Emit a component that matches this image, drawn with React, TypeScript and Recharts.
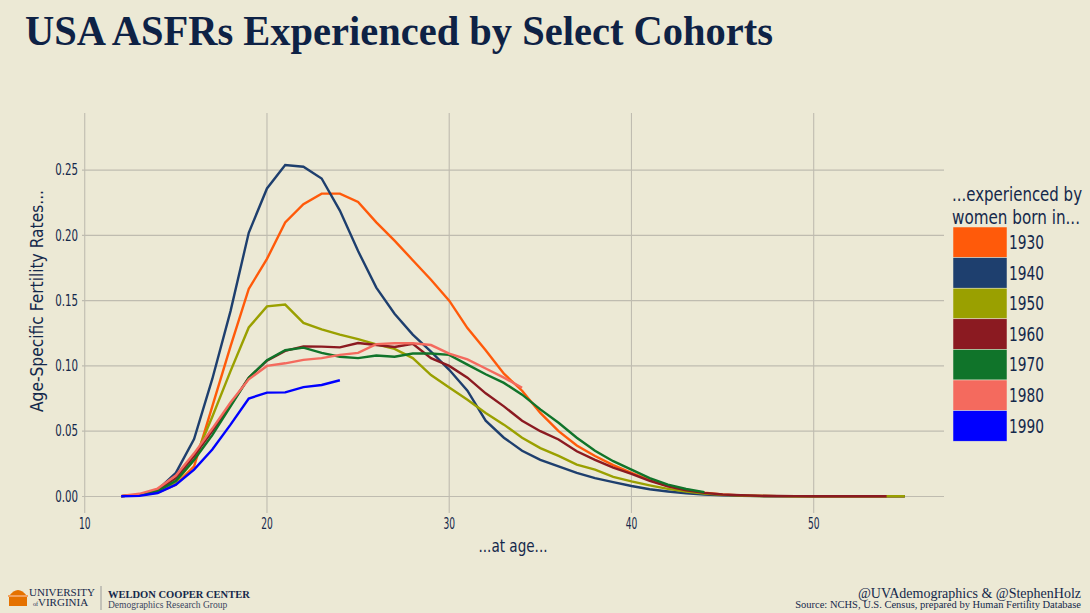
import React from 'react';
import { LineChart, Line, XAxis, YAxis, CartesianGrid } from 'recharts';

const ages = [12, 13, 14, 15, 16, 17, 18, 19, 20, 21, 22, 23, 24, 25, 26, 27, 28, 29, 30, 31, 32, 33, 34, 35, 36, 37, 38, 39, 40, 41, 42, 43, 44, 45, 46, 47, 48, 49, 50, 51, 52, 53, 54, 55];

const cohorts = ['1930', '1940', '1950', '1960', '1970', '1980', '1990'];
const cohortColors = ['#FF5A0A', '#1E3F6E', '#9AA000', '#8B1A21', '#10742A', '#F46A5E', '#0000FF'];

const asfr1930 = [0.0002, 0.001, 0.003, 0.009, 0.023, 0.069, 0.115, 0.159, 0.182, 0.21, 0.224, 0.232, 0.232, 0.2256, 0.21, 0.196, 0.181, 0.166, 0.15, 0.129, 0.112, 0.094, 0.081, 0.064, 0.05, 0.039, 0.031, 0.024, 0.018, 0.0125, 0.008, 0.0048, 0.0028, 0.0015, 0.0008, 0.0004, 0.0002, 0.0001, 0.0001, 0.0001, 0.0001, 0.0001, 0.0001, 0.0001];
const asfr1940 = [0.0002, 0.001, 0.005, 0.018, 0.044, 0.09, 0.142, 0.202, 0.236, 0.254, 0.2526, 0.2436, 0.219, 0.188, 0.16, 0.14, 0.124, 0.111, 0.097, 0.081, 0.058, 0.045, 0.035, 0.028, 0.023, 0.018, 0.014, 0.011, 0.008, 0.0055, 0.0038, 0.0024, 0.0014, 0.0008, 0.0004, 0.0002, 0.0001, 0.0001, 0.0001, 0.0001, 0.0001, 0.0001, 0.0001, 0.0001];
const asfr1950 = [0.0002, 0.001, 0.004, 0.011, 0.028, 0.061, 0.096, 0.1295, 0.1456, 0.147, 0.133, 0.128, 0.124, 0.1205, 0.1165, 0.113, 0.106, 0.093, 0.0835, 0.074, 0.064, 0.055, 0.045, 0.037, 0.031, 0.0244, 0.0205, 0.015, 0.0115, 0.0085, 0.0058, 0.0038, 0.0022, 0.0012, 0.0006, 0.0003, 0.0002, 0.0001, 0.0001, 0.0001, 0.0001, 0.0001, 0.0001, 0.0001];
const asfr1960 = [0.0002, 0.001, 0.005, 0.014, 0.031, 0.05, 0.07, 0.091, 0.104, 0.1115, 0.115, 0.1148, 0.1142, 0.1175, 0.116, 0.1145, 0.117, 0.106, 0.1, 0.091, 0.079, 0.069, 0.058, 0.05, 0.0436, 0.0346, 0.028, 0.022, 0.0172, 0.012, 0.0077, 0.0046, 0.0027, 0.0015, 0.0009, 0.0005, 0.0003, 0.0002, 0.0001, 0.0001, 0.0001, 0.0001, 0.0001];
const asfr1970 = [0.0002, 0.001, 0.004, 0.012, 0.028, 0.047, 0.069, 0.091, 0.1044, 0.112, 0.114, 0.11, 0.107, 0.106, 0.108, 0.107, 0.1095, 0.1095, 0.1085, 0.101, 0.0936, 0.087, 0.078, 0.0667, 0.0564, 0.045, 0.035, 0.027, 0.0205, 0.014, 0.009, 0.0057, 0.0033];
const asfr1980 = [0.0003, 0.002, 0.006, 0.016, 0.033, 0.052, 0.072, 0.0897, 0.1, 0.102, 0.1046, 0.106, 0.1085, 0.11, 0.1167, 0.1174, 0.1174, 0.116, 0.1095, 0.105, 0.098, 0.091, 0.0833];
const asfr1990 = [0.0001, 0.0004, 0.0026, 0.009, 0.0205, 0.036, 0.055, 0.075, 0.0795, 0.0797, 0.0838, 0.0854, 0.089];

const xTicks = [10, 20, 30, 40, 50];
const yTicks = [0, 0.05, 0.1, 0.15, 0.2, 0.25];

const seriesValues = [asfr1930, asfr1940, asfr1950, asfr1960, asfr1970, asfr1980, asfr1990];

const data = ages.map((age, i) => {
  const row: Record<string, number | undefined> = { age };
  cohorts.forEach((c, k) => {
    row['c' + c] = seriesValues[k][i];
  });
  return row;
});

const BG = '#ECE9D5';
const NAVY = '#14284B';
const GRID = '#BFBCB0';
const SANS = '"DejaVu Sans", "Noto Sans", sans-serif';
const SERIF = '"Liberation Serif", "DejaVu Serif", serif';

// approximate narrow widths for condensed look
const narrowWidth = (s: string, digit: number, dot: number) => {
  let w = 0;
  for (const ch of s) w += ch === '.' ? dot : digit;
  return w;
};

const XTick = (props: any) => {
  const { x, y, payload } = props;
  const s = String(payload.value);
  return (
    <text x={x} y={y} dy="0.71em" textAnchor="middle" fontFamily={SANS} fontSize={15} fill={NAVY}
      textLength={narrowWidth(s, 5.8, 3)} lengthAdjust="spacingAndGlyphs">
      {s}
    </text>
  );
};

const YTick = (props: any) => {
  const { x, y, payload } = props;
  const s = Number(payload.value).toFixed(2);
  return (
    <text x={x} y={y} dy="0.355em" textAnchor="end" fontFamily={SANS} fontSize={15} fill={NAVY}
      textLength={narrowWidth(s, 6.4, 3.6)} lengthAdjust="spacingAndGlyphs">
      {s}
    </text>
  );
};

const legendTitle1 = '...experienced by';
const legendTitle2 = 'women born in...';
const SQ = 0.7;

export default function App() {
  return (
    <div style={{ position: 'absolute', left: 0, top: 0, width: 1090, height: 613, background: BG, overflow: 'hidden' }}>
      <LineChart
        width={1090}
        height={613}
        data={data}
        margin={{ top: 113, right: 146, left: 0, bottom: 62 }}
      >
        <CartesianGrid stroke={GRID} strokeWidth={1.1} horizontalValues={yTicks} verticalValues={xTicks} />
        <XAxis
          type="number"
          dataKey="age"
          domain={[9.85, 57.15]}
          ticks={xTicks}
          allowDataOverflow
          axisLine={false}
          tickLine={false}
          tickSize={0}
          tickMargin={5}
          height={38}
          tick={<XTick />}
        />
        <YAxis
          type="number"
          domain={[-0.0127, 0.2938]}
          ticks={yTicks}
          allowDataOverflow
          axisLine={false}
          tickLine={false}
          tickSize={0}
          tickMargin={4}
          width={82}
          tick={<YTick />}
        />
        {cohorts.map((c, k) => (
          <Line
            key={c}
            type="linear"
            dataKey={'c' + c}
            stroke={cohortColors[k]}
            strokeWidth={2.4}
            dot={false}
            activeDot={false}
            isAnimationActive={false}
          />
        ))}
      </LineChart>
      <svg width={1090} height={613} style={{ position: 'absolute', left: 0, top: 0, pointerEvents: 'none' }}>
        <text x={25} y={45} fontFamily={SERIF} fontWeight="bold" fontSize={42} fill="#0E2245" textLength={748} lengthAdjust="spacingAndGlyphs">
          USA ASFRs Experienced by Select Cohorts
        </text>
        <text transform="translate(43,301) rotate(-90)" textAnchor="middle" fontFamily={SANS} fontSize={18} fill={NAVY}
          textLength={222} lengthAdjust="spacingAndGlyphs">
          Age-Specific Fertility Rates...
        </text>
        <text x={513} y={552} textAnchor="middle" fontFamily={SANS} fontSize={18} fill={NAVY}
          textLength={69} lengthAdjust="spacingAndGlyphs">
          ...at age...
        </text>
        <g transform={`translate(952,201) scale(${SQ},1)`}>
          <text x={0} y={0} fontFamily={SANS} fontSize={19} fill={NAVY} textLength={130 / SQ} lengthAdjust="spacingAndGlyphs">{legendTitle1}</text>
        </g>
        <g transform={`translate(952,224) scale(${SQ},1)`}>
          <text x={0} y={0} fontFamily={SANS} fontSize={19} fill={NAVY} textLength={128 / SQ} lengthAdjust="spacingAndGlyphs">{legendTitle2}</text>
        </g>
        {cohorts.map((c, k) => (
          <g key={c}>
            <rect x={953} y={227 + k * 30.6} width={54} height={30.6} fill={cohortColors[k]} stroke={BG} strokeWidth={0.5} />
            <text x={1009} y={227 + k * 30.6 + 22} fontFamily={SANS} fontSize={19} fill={NAVY}
              textLength={35} lengthAdjust="spacingAndGlyphs">{c}</text>
          </g>
        ))}
        <g>
          <path d="M9,606 L9,596 Q18,584 27,596 L27,606 Z" fill="#E57200" />
          <rect x={8} y={595} width={20} height={2} fill="#F3A25E" />
          <text x={29} y={596} fontFamily={SERIF} fontSize={11} fill={NAVY}>UNIVERSITY</text>
          <text x={33} y={606} fontFamily={SERIF} fontSize={11} fill={NAVY}>
            <tspan fontSize={6}>of</tspan>VIRGINIA
          </text>
          <line x1={101} y1={586} x2={101} y2={610} stroke="#9A9A9A" strokeWidth={1} />
          <text x={108} y={598} fontFamily={SERIF} fontWeight="bold" fontSize={10.5} fill={NAVY}>WELDON COOPER CENTER</text>
          <text x={108} y={608} fontFamily={SERIF} fontSize={9.5} fill="#3A4560">Demographics Research Group</text>
        </g>
        <text x={1081} y={598} textAnchor="end" fontFamily={SERIF} fontSize={14} fill={NAVY}>@UVAdemographics &amp; @StephenHolz</text>
        <text x={1081} y={608} textAnchor="end" fontFamily={SERIF} fontSize={10.5} fill={NAVY}>Source: NCHS, U.S. Census, prepared by Human Fertility Database</text>
      </svg>
    </div>
  );
}
